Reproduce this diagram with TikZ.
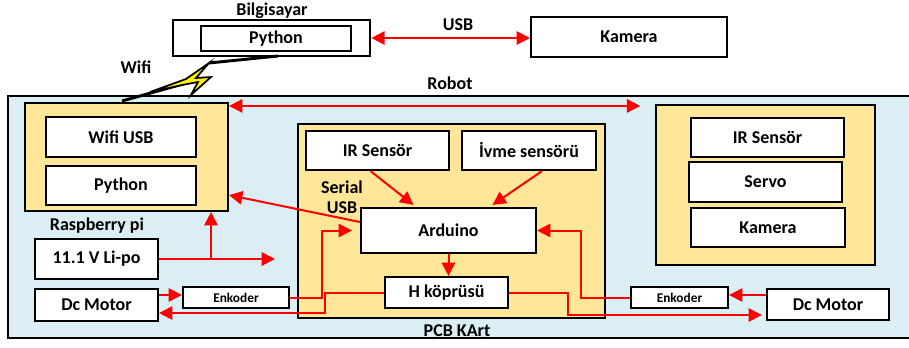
\documentclass[tikz,border=0pt]{standalone}
\usepackage{fontspec}
\setmainfont{Carlito}
\usetikzlibrary{arrows.meta,calc}
\definecolor{robotmavi}{HTML}{DAEEF3}
\definecolor{kartsari}{HTML}{FFE699}
\tikzset{
  sz/.style 2 args={minimum width=#1*0.75pt, minimum height=#2*0.75pt},
  kutu/.style={draw, line width=1.6pt, fill=white, inner sep=0pt, font=\fontsize{13.5}{15}\selectfont\bfseries},
  kucukkutu/.style={kutu, font=\fontsize{10}{12}\selectfont\bfseries},
  grup/.style={draw, line width=1.6pt, fill=kartsari, inner sep=0pt},
  etiket/.style={inner sep=0pt, font=\fontsize{13.5}{15}\selectfont\bfseries},
  ok/.style={draw=red, line width=1.5pt, -{Triangle[length=10pt,width=10pt]}},
  cok/.style={ok, {Triangle[length=10pt,width=10pt]}-{Triangle[length=10pt,width=10pt]}},
}
\begin{document}
\begin{tikzpicture}[x=0.75pt,y=0.75pt,yscale=-1,xscale=1]
\useasboundingbox (0,0) rectangle (909,347);

% Bilgisayar ve kamera
\node[kutu, line width=2pt, sz={197}{36}] (bilg) at (271.5,38) {};
\node[kutu, sz={150}{25}] (bpy) at (276,38.5) {Python};
\node[kutu, sz={196}{40}] (kam) at (629,37) {Kamera};
\node[etiket] (lbilg) at (272,11) {Bilgisayar};
\node[etiket] (lusb) at (458,25) {USB};
\node[etiket] (lwifi) at (136,67) {Wifi};

% Robot
\node[draw, line width=1.8pt, fill=robotmavi, sz={907}{242}] (robot) at (461.5,217) {};
\node[etiket] (lrobot) at (450,83) {Robot};

% Wifi simsegi
\draw[line width=2.2pt] (278,56) -- (209,63);
\draw[line width=2.2pt] (183,84) -- (122,101);
\filldraw[fill=yellow, line width=1.3pt, line join=miter] (209,63) -- (196,78) -- (211,77) -- (191,95) -- (198,82) -- (182,85) -- (150,92) -- (186,79) -- cycle;

% Raspberry pi
\node[grup, sz={203}{108}] (rpi) at (126.5,157) {};
\node[kutu, sz={150}{40}] (wusb) at (121,137) {Wifi USB};
\node[kutu, sz={150}{39}] (rpy) at (121,185.5) {Python};
\node[etiket] (lrpi) at (97,226) {Raspberry pi};
\node[kutu, sz={123}{40}] (lipo) at (96.5,259) {11.1 V Li-po};
\node[kutu, sz={123}{32}] (dcl) at (96.5,305) {Dc Motor};
\node[kucukkutu, sz={106}{21}] (enkl) at (236,297.5) {Enkoder};

% PCB kart
\node[grup, sz={307}{194}] (pcb) at (451.5,221) {};
\node[kutu, sz={143}{39}] (irp) at (377.5,150.5) {IR Sensör};
\node[kutu, sz={134}{39}] (ivme) at (529,150.5) {İvme sensörü};
\node[kutu, sz={175}{45}] (ard) at (448.5,230.5) {Arduino};
\node[kutu, sz={123}{31}] (hk) at (446.5,292.5) {H köprüsü};
\node[etiket, align=center] (lser) at (342,197.5) {Serial\\USB};
\node[etiket] (lpcb) at (457,331) {PCB KArt};

% sag grup
\node[grup, sz={219}{160}] (rbox) at (765.5,185) {};
\node[kutu, sz={153}{39}] (irr) at (767.5,137.5) {IR Sensör};
\node[kutu, sz={153}{40}] (servo) at (765.5,182) {Servo};
\node[kutu, sz={154}{39}] (kamr) at (768,227.5) {Kamera};
\node[kucukkutu, sz={97}{21}] (enkr) at (679.5,297.5) {Enkoder};
\node[kutu, sz={122}{31}] (dcr) at (828,304.5) {Dc Motor};

% baglantilar
\draw[cok] (bilg.east) -- (bilg.east -| kam.west);
\draw[cok, shorten >=11pt] ($(rpi.north east)+(0,4)$) coordinate (ra) -- (ra -| rbox.west);
\coordinate (lj) at (211,259);
\draw[ok] (lipo.east) -- (275,259);
\draw[ok] (lj) -- (lj |- rpi.south);
\draw[ok] ($(ard.west)+(0,-8.5)$) -- ($(rpi.south east)+(0,-17)$);
\draw[ok] ($(irp.south)+(-7,0)$) -- ($(ard.north)+(-35,-2)$);
\draw[ok] ($(ivme.south)+(13,0)$) -- ($(ard.north)+(44,-2)$);
\draw[ok] (ard.south) -- (ard.south |- hk.north);
\draw[ok, shorten >=6pt] (enkl.east) -- ++(32,0) |- (ard.west);
\draw[ok] (hk.west) -- ++(-59,0) |- ($(dcl.east)+(0,8)$);
\coordinate (dclo) at ($(dcl.east)+(0,-10)$);
\draw[ok] (dclo) -- (dclo -| enkl.west);
\draw[ok, shorten >=3pt] (hk.east) -- ++(59,0) |- ($(dcr.west)+(0,10.5)$);
\coordinate (dcro) at ($(dcr.west)+(0,-9.5)$);
\draw[ok] (dcro) -- (dcro -| enkr.east);
\draw[ok] (enkr.west) -- ++(-49,0) |- (ard.east);

\end{tikzpicture}
\end{document}
